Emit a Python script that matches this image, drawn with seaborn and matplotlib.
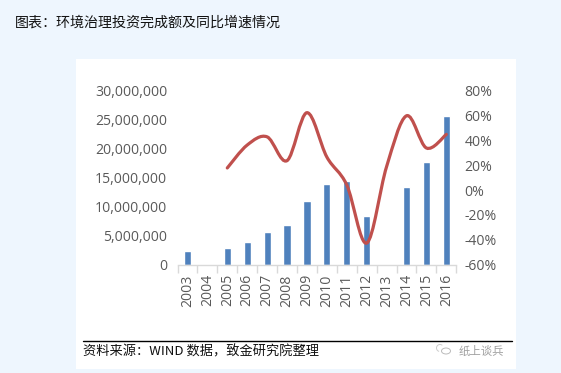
import numpy as np
import pandas as pd
import matplotlib
matplotlib.use("Agg")
import matplotlib.pyplot as plt
from matplotlib.patches import Rectangle, PathPatch, Arc, Circle
from matplotlib.path import Path
import seaborn as sns

years = ["2003","2004","2005","2006","2007","2008","2009","2010","2011","2012","2013","2014","2015","2016"]
invest = [2400000,np.nan,2800000,3850000,5550000,6750000,10900000,14000000,14500000,8300000,np.nan,13350000,17800000,25700000]
growth = [np.nan,np.nan,17.9,36.4,43,23.8,62.5,26.7,4.2,-42.7,19,60,34,45]
left_ticks = [0,5000000,10000000,15000000,20000000,25000000,30000000]
right_ticks = [-60,-40,-20,0,20,40,60,80]
title = "图表:环境治理投资完成额及同比增速情况"
source = "资料来源:WIND 数据,致金研究院整理"
mark = "纸上谈兵"

W, H = 561, 373
GREY = "#595959"
sns.set_theme(style="white")
plt.rcParams['font.family'] = ['Noto Sans CJK SC', 'DejaVu Sans']
fig = plt.figure(figsize=(W/100, H/100), dpi=100, facecolor="#EEF6FE")

def fx(x): return x/W
def fy(y): return 1-y/H

fig.add_artist(Rectangle((fx(76), fy(369)), 440/W, 310/H, transform=fig.transFigure,
                             facecolor="white", edgecolor="none", zorder=-1))

ax = fig.add_axes([fx(177.5), fy(264.5), (456.3-177.5)/W, (264.5-91)/H])
ax.patch.set_alpha(0)
df = pd.DataFrame({"year": years, "invest": invest})
sns.barplot(data=df, x="year", y="invest", color="#4F81BD", saturation=1, width=0.36, ax=ax, errorbar=None)
ax.set_xlim(-0.5, 13.5)
ax.set_ylim(0, 30000000)
ax.set_xlabel(""); ax.set_ylabel("")
ax.set_yticks(left_ticks)
ax.set_yticklabels([f"{v:,}" for v in left_ticks], family="Open Sans", fontsize=10.1, color=GREY)
ax.set_xticks(range(len(years)))
ax.set_xticklabels(years, rotation=90, family="Open Sans", fontsize=10.1, color=GREY)
ax.set_xticks(np.arange(-0.5, 14), minor=True)
ax.tick_params(axis="x", which="major", length=0, pad=7)
ax.tick_params(axis="x", which="minor", length=5.5, width=1, color="#D9D9D9", bottom=True)
ax.tick_params(axis="y", length=0, pad=7.5)
for s in ["top","left","right"]:
    ax.spines[s].set_visible(False)
ax.spines["bottom"].set_color("#D9D9D9")
ax.spines["bottom"].set_linewidth(1)

ax2 = ax.twinx()
ax2.set_ylim(-60, 80)
ax2.set_yticks(right_ticks)
ax2.set_yticklabels([f"{v}%" for v in right_ticks], family="Open Sans", fontsize=10.1, color=GREY)
ax2.tick_params(axis="y", length=0, pad=6)
for s in ax2.spines.values():
    s.set_visible(False)
ax2.grid(False); ax.grid(False)

# smoothed line: cubic Bezier segments through the values (Excel-style smoothing)
xs = [i for i, g in enumerate(growth) if not np.isnan(g)]
ys = [growth[i] for i in xs]
verts = [(xs[0], ys[0])]
codes = [Path.MOVETO]
n = len(xs)
for i in range(n-1):
    p0 = (xs[max(i-1,0)], ys[max(i-1,0)])
    p1 = (xs[i], ys[i])
    p2 = (xs[i+1], ys[i+1])
    p3 = (xs[min(i+2,n-1)], ys[min(i+2,n-1)])
    c1 = (p1[0]+(p2[0]-p0[0])/6, p1[1]+(p2[1]-p0[1])/6)
    c2 = (p2[0]-(p3[0]-p1[0])/6, p2[1]-(p3[1]-p1[1])/6)
    verts += [c1, c2, p2]
    codes += [Path.CURVE4]*3
ax2.add_patch(PathPatch(Path(verts, codes), facecolor="none", edgecolor="#C0504D", lw=2.3, capstyle="round"))

fig.text(fx(15), fy(23), title.replace(":", "\uff1a"), fontsize=10.1, color="#111111", ha="left", va="center")
fig.add_artist(plt.Line2D([fx(83), fx(512)], [fy(340.5), fy(340.5)], color="black", lw=1, transform=fig.transFigure))
fig.text(fx(83), fy(352), source.replace(":", "\uff1a").replace(",", "\uff0c"), fontsize=9.5, color="#111111", ha="left", va="center")
fig.text(fx(459), fy(351), mark, fontsize=8.2, color="#A0A0A0", ha="left", va="center")
fig.add_artist(Circle((fx(446), fy(351)), 4.5/W, transform=fig.transFigure, facecolor="none", edgecolor="#BBBBBB", lw=0.7))
fig.add_artist(Arc((fx(440), fy(348)), 7/W, 7/H, angle=0, theta1=60, theta2=260, transform=fig.transFigure, edgecolor="#CCCCCC", lw=0.7))

fig.savefig("out.png", dpi=100, facecolor=fig.get_facecolor())
